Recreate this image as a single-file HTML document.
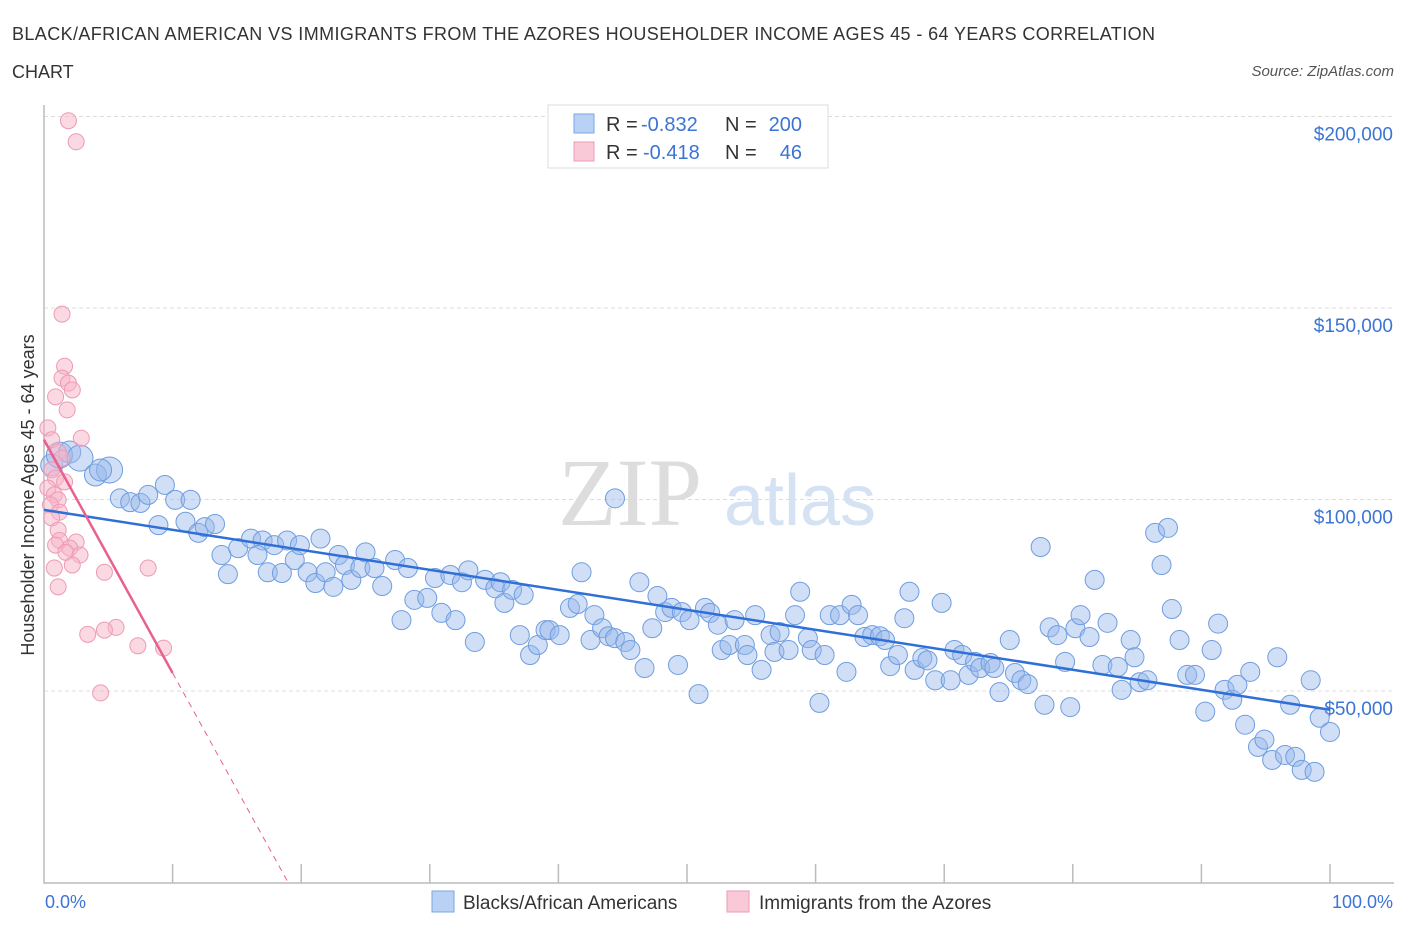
<!DOCTYPE html>
<html><head><meta charset="utf-8"><style>
body{margin:0;background:#fff;font-family:"Liberation Sans",sans-serif;}
#wrap{position:relative;width:1406px;height:930px;overflow:hidden;}
</style></head><body>
<div id="wrap">
<svg id="svg" width="1406" height="930" xmlns="http://www.w3.org/2000/svg">
<text x="12" y="40" font-size="18" fill="#333" textLength="1143">BLACK/AFRICAN AMERICAN VS IMMIGRANTS FROM THE AZORES HOUSEHOLDER INCOME AGES 45 - 64 YEARS CORRELATION</text>
<text x="12" y="78" font-size="18" fill="#333">CHART</text>
<text x="1394" y="76" font-size="15" fill="#555" font-style="italic" text-anchor="end">Source: ZipAtlas.com</text>
<text x="630" y="525" font-size="96" fill="#ddd" font-family="Liberation Serif,serif" text-anchor="middle">ZIP</text>
<text x="800" y="525" font-size="72" fill="#d4e2f4" text-anchor="middle">atlas</text>
<g id="grid"></g><g id="axes"></g><g id="pts"></g><g id="lines"></g>
<text x="34" y="495" font-size="18" fill="#333" text-anchor="middle" transform="rotate(-90 34 495)">Householder Income Ages 45 - 64 years</text>
<text x="45" y="908" font-size="18" fill="#3b74d4">0.0%</text>
<text x="1393" y="908" font-size="18" fill="#3b74d4" text-anchor="end">100.0%</text>
<g>
<rect x="548" y="105" width="280" height="63" fill="#fff" stroke="#ddd"/>
<rect x="574" y="114" width="20" height="19" fill="#b9d1f4" stroke="#7aa6e6"/>
<rect x="574" y="142" width="20" height="19" fill="#f9c9d7" stroke="#ee9ab5"/>
<text x="606" y="131" font-size="20" fill="#333">R =</text>
<text x="641" y="131" font-size="20" fill="#3b74d4">-0.832</text>
<text x="725" y="131" font-size="20" fill="#333">N =</text>
<text x="802" y="131" font-size="20" fill="#3b74d4" text-anchor="end">200</text>
<text x="606" y="159" font-size="20" fill="#333">R =</text>
<text x="643" y="159" font-size="20" fill="#3b74d4">-0.418</text>
<text x="725" y="159" font-size="20" fill="#333">N =</text>
<text x="802" y="159" font-size="20" fill="#3b74d4" text-anchor="end">46</text>
</g>
<g>
<rect x="432" y="891" width="22" height="21" fill="#b9d1f4" stroke="#7aa6e6"/>
<text x="463" y="909" font-size="19" fill="#333">Blacks/African Americans</text>
<rect x="727" y="891" width="22" height="21" fill="#f9c9d7" stroke="#ee9ab5"/>
<text x="759" y="909" font-size="19" fill="#333">Immigrants from the Azores</text>
</g>
</svg></div>
<script>
const blueX=[0.6,1.2,2.0,2.8,4.0,5.1,4.4,5.9,6.7,7.5,8.1,9.4,10.2,11.4,8.9,11.0,12.0,12.5,13.3,13.8,15.1,14.3,16.1,17.0,16.6,17.4,17.9,18.9,18.5,19.5,19.9,20.5,21.1,21.5,21.9,22.5,22.9,23.4,23.9,24.6,25.0,25.7,26.3,27.3,28.3,27.8,28.8,29.8,30.4,30.9,31.6,32.0,32.5,33.0,33.5,34.3,35.1,35.5,35.8,36.4,37.0,37.3,37.8,38.4,39.0,39.3,40.1,40.9,41.5,41.8,42.5,42.8,43.4,43.9,44.4,45.2,45.6,44.4,46.3,46.7,47.3,47.7,48.3,48.8,49.3,49.6,50.2,50.9,51.4,51.8,52.4,52.7,53.3,53.7,54.5,54.7,55.3,55.8,56.5,56.8,57.2,57.9,58.4,58.8,59.4,59.7,60.3,60.7,61.1,61.9,62.4,62.8,63.3,63.8,64.4,65.0,65.4,65.8,66.4,66.9,67.3,67.7,68.3,68.7,69.3,69.8,70.5,70.8,71.4,71.9,72.4,72.8,73.6,73.9,74.3,75.1,75.5,76.0,76.5,77.5,77.8,78.2,78.8,79.4,79.8,80.2,80.6,81.3,81.7,82.3,82.7,83.5,83.8,84.5,84.8,85.2,85.8,86.4,86.9,87.4,87.7,88.3,88.9,89.5,90.3,90.8,91.3,91.8,92.4,92.8,93.4,93.8,94.4,94.9,95.5,95.9,96.5,96.9,97.3,97.8,98.5,98.8,99.2,100];
const blueY=[109,111.6,112.4,110.8,106.4,107.7,107.7,100.3,99.3,99.1,101.2,103.8,99.9,99.9,93.3,94.2,91.3,92.8,93.6,85.5,87.3,80.5,89.8,89.3,85.5,81.0,88.1,89.3,80.8,84.2,88.1,81.0,78.2,89.8,81.0,77.2,85.5,82.9,79.0,82.1,86.2,82.1,77.4,84.2,82.1,68.5,73.8,74.3,79.5,70.4,80.3,68.5,78.4,81.5,62.8,79.0,76.8,78.4,73.0,76.4,64.6,75.1,59.4,62.0,65.9,65.9,64.6,71.7,72.7,81.0,63.3,69.8,66.4,64.3,63.8,62.8,60.7,100.3,78.4,56.0,66.4,74.8,70.6,71.7,56.8,70.6,68.5,49.2,71.7,70.4,67.3,60.7,62.0,68.5,62.0,59.4,69.8,55.5,64.6,60.2,65.4,60.7,69.8,75.9,63.8,60.7,46.9,59.4,69.8,69.8,55.0,72.5,69.8,64.1,64.6,64.3,63.3,56.5,59.4,69.0,75.9,55.5,58.6,58.0,52.8,73.0,52.8,60.7,59.4,54.2,57.6,56.0,57.3,56.0,49.7,63.3,54.7,52.8,51.8,87.6,46.4,66.6,64.6,57.6,45.8,66.4,69.8,64.1,79.0,56.8,67.8,56.3,50.3,63.3,58.8,52.3,52.8,91.3,82.9,92.6,71.4,63.3,54.2,54.2,44.6,60.7,67.6,50.3,47.7,51.6,41.2,55.0,35.4,37.3,32.0,58.8,33.3,46.4,32.8,29.4,52.8,28.9,43.0,39.3];
const pinkX=[1.9,2.5,1.4,1.6,1.4,1.9,2.2,0.9,1.8,0.3,0.6,2.9,1.1,1.4,0.6,0.9,1.6,0.3,0.8,1.1,0.5,1.2,0.6,1.1,1.2,0.9,2.5,2.0,1.7,2.8,2.2,4.7,8.1,0.8,1.1,5.6,3.4,4.7,7.3,9.3,4.4];
const pinkY=[198.9,193.4,148.4,134.8,131.7,130.4,128.6,126.8,123.4,118.7,115.6,116.0,112.4,110.8,107.7,105.6,104.6,103.0,101.2,99.9,98.6,96.7,95.2,92.0,89.3,88.1,88.9,87.3,86.2,85.5,82.9,81.0,82.1,82.1,77.2,66.6,64.8,65.9,61.8,61.2,49.5];
const yTicks=[50000,100000,150000,200000];
const yTickLabels=["$50,000","$100,000","$150,000","$200,000"];
const blueTrend=[97.3,45.1];
const pinkTrend=[115.6,54.7];
const NS="http://www.w3.org/2000/svg";
const X=p=>44+p*12.86, Y=v=>882.5-v*191.5/50000;
function mk(t,a,parent){const e=document.createElementNS(NS,t);for(const k in a)e.setAttribute(k,a[k]);document.getElementById(parent).appendChild(e);return e;}
yTicks.forEach((t,i)=>{
 const g=mk('line',{x1:44,x2:1394,y1:Y(t),y2:Y(t),stroke:'#ddd','stroke-dasharray':'4,3'},'grid');
 
 
 const l=mk('text',{x:1393,y:Y(t)+24,'font-size':19,fill:'#3b74d4','text-anchor':'end'},'grid');
 l.textContent=yTickLabels[i];
 
 
});
const ax=mk('path',{d:'M44,105 V883 H1394',fill:'none',stroke:'#bbb','stroke-width':1.5},'axes');


for(let i=1;i<=10;i++){const t=mk('line',{x1:X(i*10),x2:X(i*10),y1:864,y2:883,stroke:'#bbb','stroke-width':1.5},'axes');
 
 }
blueX.forEach((x,i)=>{const r=i<7?(i%2?13:11):9.5;
 const c=mk('circle',{cx:X(x),cy:Y(blueY[i]*1000),r:r,fill:'rgba(150,185,235,0.45)',stroke:'#6f9de0','stroke-width':1},'pts');
 
 });
pinkX.forEach((x,i)=>{
 const c=mk('circle',{cx:X(x),cy:Y(pinkY[i]*1000),r:8,fill:'rgba(245,180,200,0.5)',stroke:'#ee9ab5','stroke-width':1},'pts');
 
 });
const bl=mk('line',{x1:X(0),y1:Y(blueTrend[0]*1000),x2:X(100),y2:Y(blueTrend[1]*1000),stroke:'#2f6fd6','stroke-width':2.5},'lines');


const pslope=(pinkTrend[1]-pinkTrend[0])/10, pz=-pinkTrend[0]/pslope;
const pl=mk('line',{x1:X(0),y1:Y(pinkTrend[0]*1000),x2:X(10),y2:Y(pinkTrend[1]*1000),stroke:'#e8608c','stroke-width':2.5},'lines');


const pd=mk('line',{x1:X(10),y1:Y(pinkTrend[1]*1000),x2:X(pz),y2:Y(0),stroke:'#e8608c','stroke-width':1,'stroke-dasharray':'6,5'},'lines');


</script>
</body></html>
